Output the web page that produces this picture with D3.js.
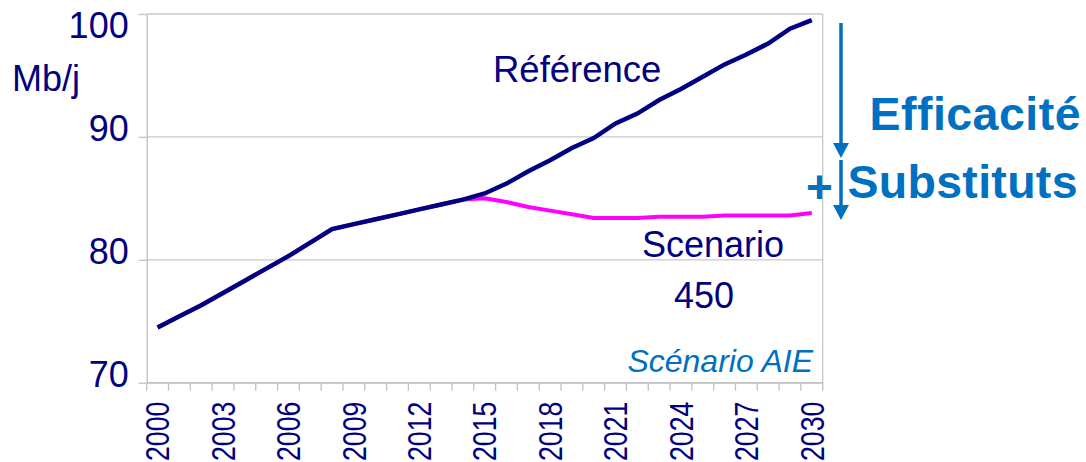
<!DOCTYPE html>
<html>
<head>
<meta charset="utf-8">
<script src="https://cdn.jsdelivr.net/npm/d3@7"></script>
<style>
    body { margin: 0; background: #ffffff; }
    svg { display: block; font-family: "Liberation Sans", Arial, sans-serif; font-variant-ligatures: none; }
    .domain, .tick line { stroke: #c0c0c0; stroke-width: 1.3; }
</style>
</head>
<body>
<svg id="chart"></svg>
<script>
//Data
let years = d3.range(2000, 2031);
let reference = [74.5, 75.4, 76.3, 77.3, 78.3, 79.3, 80.3, 81.4, 82.5, 82.9,
    83.3, 83.7, 84.1, 84.5, 84.9, 85.4, 86.2, 87.2, 88.1, 89.1,
    89.9, 91.1, 91.9, 93.0, 93.9, 94.9, 95.9, 96.7, 97.6, 98.8, 99.5];
let scenario450 = [74.5, 75.4, 76.3, 77.3, 78.3, 79.3, 80.3, 81.4, 82.5, 82.9,
    83.3, 83.7, 84.1, 84.5, 84.9, 85.0, 84.7, 84.3, 84.0, 83.7,
    83.4, 83.4, 83.4, 83.5, 83.5, 83.5, 83.6, 83.6, 83.6, 83.6, 83.8];
let yTicks = [70, 80, 90, 100];

//Setting up canvas
let width = 1086;
let height = 462;
let margin = {left: 146.7, top: 14, right: 263.3, bottom: 79.3};
let navy = '#000080';
let blue = '#0070c0';

let svg = d3.select('#chart')
    .attr('width', width)
    .attr('height', height);

//Scales
let xScale = d3.scaleBand()
    .domain(years)
    .range([margin.left, width - margin.right]);
let bw = xScale.bandwidth();
let yScale = d3.scaleLinear()
    .domain([70, 100])
    .range([height - margin.bottom, margin.top]);

//Gridlines
svg.append('g')
    .selectAll('line')
    .data(yTicks)
    .enter()
    .append('line')
    .attr('x1', margin.left)
    .attr('x2', width - margin.right)
    .attr('y1', d => yScale(d))
    .attr('y2', d => yScale(d))
    .attr('stroke', '#c8c8c8')
    .attr('stroke-width', 1.3);

//right border of the plot area
svg.append('line')
    .attr('x1', width - margin.right)
    .attr('x2', width - margin.right)
    .attr('y1', margin.top)
    .attr('y2', height - margin.bottom)
    .attr('stroke', '#c8c8c8')
    .attr('stroke-width', 1.3);

//x axis - ticks sit on the band edges, labels every 3 years
let gX = svg.append('g')
    .attr('transform', 'translate(0,' + (height - margin.bottom) + ')')
    .call(d3.axisBottom(xScale)
        .tickSize(8)
        .tickSizeOuter(0)
        .tickFormat(d => (d - 2000) % 3 === 0 ? d : ''));
gX.selectAll('.tick line')
    .attr('x1', -bw / 2)
    .attr('x2', -bw / 2);
gX.append('line')
    .attr('x1', width - margin.right)
    .attr('x2', width - margin.right)
    .attr('y1', 0)
    .attr('y2', 8)
    .attr('stroke', '#c0c0c0')
    .attr('stroke-width', 1.3);
gX.selectAll('.tick text')
    .attr('fill', navy)
    .attr('font-size', 32.5)
    .attr('text-anchor', 'end')
    .attr('x', null)
    .attr('y', null)
    .attr('dy', '0.36em')
    .attr('transform', 'translate(0,19) rotate(-90) scale(0.82,1)');

//y axis
let gY = svg.append('g')
    .attr('transform', 'translate(' + margin.left + ',0)')
    .call(d3.axisLeft(yScale)
        .tickValues(yTicks)
        .tickSize(8)
        .tickSizeOuter(0));
gY.selectAll('.tick text')
    .attr('fill', navy)
    .attr('font-size', 36)
    .attr('x', -18)
    .attr('dy', d => d === 100 ? 23 : 4);

//Lines
let line = d3.line()
    .x((d, i) => xScale(years[i]) + bw / 2)
    .y(d => yScale(d));

svg.append('path')
    .datum(scenario450)
    .attr('d', line)
    .attr('fill', 'none')
    .attr('stroke', '#ff00ff')
    .attr('stroke-width', 4);

svg.append('path')
    .datum(reference)
    .attr('d', line)
    .attr('fill', 'none')
    .attr('stroke', navy)
    .attr('stroke-width', 4.5);

//Labels
let label = (txt, x, y, size, color, extra) => {
    let t = svg.append('text')
        .attr('x', x)
        .attr('y', y)
        .attr('font-size', size)
        .attr('fill', color)
        .text(txt);
    if (extra) extra(t);
    return t;
}

label('Mb/j', 12, 90.7, 36, navy);
label('Référence', 493, 81.7, 36.5, navy);
label('Scenario', 642, 257.3, 36, navy);
label('450', 674, 308.3, 36, navy);
label('Scénario AIE', 813, 371.7, 32, blue, t => t
    .attr('text-anchor', 'end')
    .attr('font-style', 'italic'));
//the bold words are a bit wider in the original, stretch them with textLength
label('Efficacité', 869.5, 130, 46.5, blue, t => t
    .attr('font-weight', 'bold')
    .attr('textLength', 211));
label('Substituts', 847.5, 198.3, 46.5, blue, t => t
    .attr('font-weight', 'bold')
    .attr('textLength', 230));
label('+', 806, 203, 46, blue, t => t.attr('font-weight', 'bold'));

//Arrows (gap between the two scenarios)
let arrow = (x, y1, y2) => {
    svg.append('line')
        .attr('x1', x)
        .attr('x2', x)
        .attr('y1', y1)
        .attr('y2', y2 - 10)
        .attr('stroke', blue)
        .attr('stroke-width', 3.5);
    svg.append('path')
        .attr('d', 'M' + (x - 8) + ',' + (y2 - 15) + 'L' + (x + 8) + ',' + (y2 - 15) + 'L' + x + ',' + y2 + 'Z')
        .attr('fill', blue);
}
arrow(841, 23, 158);
arrow(841, 160, 220);
</script>
</body>
</html>
